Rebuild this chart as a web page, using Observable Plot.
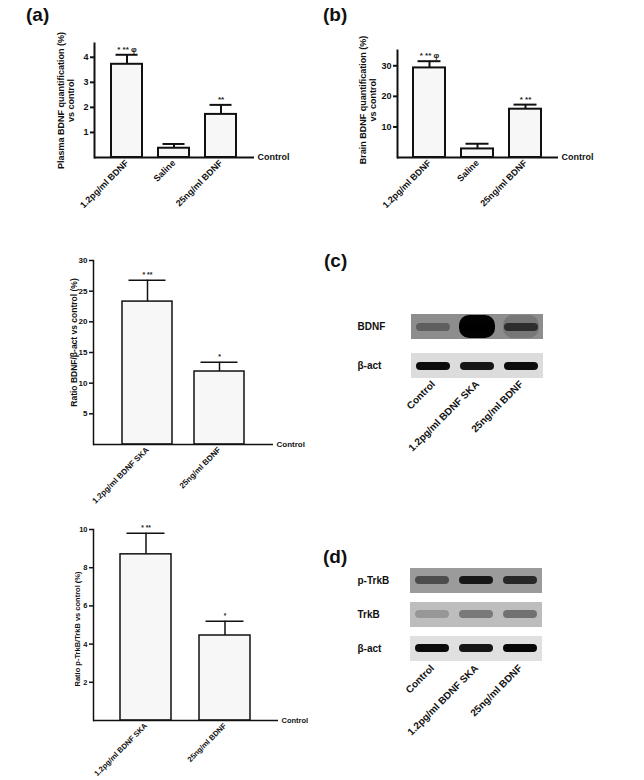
<!DOCTYPE html>
<html><head><meta charset="utf-8">
<script src="https://cdn.jsdelivr.net/npm/d3@7"></script>
<script src="https://cdn.jsdelivr.net/npm/@observablehq/plot@0.6"></script>
<style>
body{margin:0;background:#fff;font-family:"Liberation Sans",Arial,sans-serif;}
#fig{position:relative;width:644px;height:780px;overflow:hidden;background:#fff;}
.panel{position:absolute;}
.lbl{position:absolute;font-size:19px;font-weight:bold;line-height:1;color:#111;}
</style></head><body><div id="fig"></div>
<script>
// ---------- data ----------
const groupsA = ["1.2pg/ml BDNF", "Saline", "25ng/ml BDNF"];
const plasmaMean = [3.72, 0.37, 1.72];
const plasmaErr = [0.38, 0.17, 0.38];
const plasmaSig = ["* ** φ", "", "**"];
const plasmaTicks = [1, 2, 3, 4];

const brainMean = [29.3, 2.8, 15.8];
const brainErr = [2.2, 1.7, 1.5];
const brainSig = ["* ** φ", "", "* **"];
const brainTicks = [10, 20, 30];

const groupsB = ["1.2pg/ml BDNF SKA", "25ng/ml BDNF"];
const bdnfRatioMean = [23.3, 11.9];
const bdnfRatioErr = [3.5, 1.5];
const bdnfRatioSig = ["* **", "*"];
const bdnfRatioTicks = [5, 10, 15, 20, 25, 30];

const trkRatioMean = [8.7, 4.45];
const trkRatioErr = [1.1, 0.75];
const trkRatioSig = ["* **", "*"];
const trkRatioTicks = [2, 4, 6, 8, 10];

const lanes = ["Control", "1.2pg/ml BDNF SKA", "25ng/ml BDNF"];
const blotCRows = ["BDNF", "β-act"];
const blotCBackground = [0.48, 0.15];
const blotCBands = [[0.32, 1.0, 0.62], [0.95, 0.9, 0.95]];
const blotDRows = ["p-TrkB", "TrkB", "β-act"];
const blotDBackground = [0.42, 0.28, 0.13];
const blotDBands = [[0.5, 0.85, 0.75], [0.2, 0.36, 0.4], [0.95, 0.9, 0.97]];

// ---------- helpers ----------
const fig = document.getElementById("fig");
function place(node, left, top) {
  const d = document.createElement("div");
  d.className = "panel"; d.style.left = left + "px"; d.style.top = top + "px";
  d.appendChild(node); fig.appendChild(d);
}
function label(text, left, top) {
  const d = document.createElement("div");
  d.className = "lbl"; d.textContent = text;
  d.style.left = left + "px"; d.style.top = top + "px";
  fig.appendChild(d);
}
const FONT = "'Liberation Sans', Arial, sans-serif";

function barChart(o) {
  const data = o.groups.map((g, i) => ({g, m: o.mean[i], e: o.mean[i] + o.err[i], s: o.sig[i]}));
  const svg = Plot.plot({
    width: o.width, height: o.height,
    marginLeft: o.m[0], marginTop: o.m[1], marginRight: o.m[2], marginBottom: o.m[3],
    style: {fontFamily: FONT, fontWeight: "bold", fontSize: o.fs + "px", color: "#111", background: "transparent", overflow: "visible"},
    x: {domain: o.groups, paddingInner: o.padIn, paddingOuter: o.padOut, label: null, axis: null},
    y: {domain: [0, o.yMax], label: null, axis: null},
    marks: [
      Plot.barY(data, {x: "g", y: "m", fill: "#f7f7f7", stroke: "#111", strokeWidth: o.w}),
      Plot.ruleX(data, {x: "g", y1: "m", y2: "e", stroke: "#111", strokeWidth: o.w}),
      Plot.tickY(data, {x: "g", y: "e", stroke: "#111", strokeWidth: o.w, insetLeft: o.cap, insetRight: o.cap}),
      Plot.text(data, {x: "g", y: "e", text: "s", lineAnchor: "bottom", dy: -3, fontSize: o.fs - 1, fill: "#222"}),
      Plot.frame({anchor: "left", stroke: "#111", strokeWidth: o.w}),
      Plot.ruleY([0], {stroke: "#111", strokeWidth: o.w}),
      Plot.axisY({ticks: o.ticks, tickSize: 4, tickPadding: 2, tickFormat: d => d, label: null, strokeWidth: o.w}),
      Plot.axisX({tickSize: 0, tickRotate: -45, tickPadding: 4, label: null}),
      Plot.text(["Control"], {y: () => 0, frameAnchor: "right", text: d => d, textAnchor: "start", dx: 3}),
      Plot.text([o.label], {frameAnchor: "left", text: d => d, rotate: -90, textAnchor: "middle", lineAnchor: "middle",
        dx: o.ldx, dy: o.ldy || 0, lineHeight: 1.15, fontSize: o.lfs})
    ]
  });
  place(svg, o.left, o.top);
}

let blurId = 0;
function blot(o) {
  const cells = o.rows.flatMap((r, i) => lanes.map((l, j) => ({r, l, bg: o.bg[i], v: o.bands[i][j]})));
  const svg = Plot.plot({
    width: o.width, height: o.height,
    marginLeft: o.m[0], marginTop: o.m[1], marginRight: o.m[2], marginBottom: o.m[3],
    style: {fontFamily: FONT, fontWeight: "bold", fontSize: "10px", color: "#111", background: "transparent", overflow: "visible"},
    x: {domain: lanes, padding: 0, label: null, axis: null},
    y: {domain: o.rows, paddingInner: o.padIn, paddingOuter: 0, label: null, axis: null},
    opacity: {domain: [0, 1], range: [0, 1]},
    marks: [
      Plot.cell(cells, {x: "l", y: "r", fill: "#111", fillOpacity: "bg"}),
      Plot.cell(cells.filter(d => d.r === o.haloRow), {x: "l", y: "r", fill: "#000", fillOpacity: d => Math.max(0, (d.v - 0.55) * 2.2), insetTop: 1, insetBottom: 1, insetLeft: 4, insetRight: 4, rx: 10, ariaLabel: "halo"}),
      Plot.cell(cells, {x: "l", y: "r", fill: "#000", fillOpacity: "v", insetLeft: 5, insetRight: 5, insetTop: o.bt, insetBottom: o.bb, rx: 4, ariaLabel: "band"}),
      Plot.text(o.rows, {y: d => d, frameAnchor: "left", textAnchor: "start", dx: o.rdx, text: d => d, fontSize: 10}),
      Plot.axisX({tickSize: 0, tickRotate: -45, tickPadding: 4, label: null, fontSize: 10})
    ]
  });
  const s = d3.select(svg);
  const defs = s.append("defs");
  const id1 = "blurA" + (blurId++), id2 = "blurB" + (blurId++);
  defs.append("filter").attr("id", id1).attr("x", "-50%").attr("y", "-150%").attr("width", "200%").attr("height", "400%")
    .append("feGaussianBlur").attr("stdDeviation", 1.8);
  defs.append("filter").attr("id", id2).attr("x", "-50%").attr("y", "-150%").attr("width", "200%").attr("height", "400%")
    .append("feGaussianBlur").attr("stdDeviation", 3.5);
  s.selectAll('g[aria-label="band"]').attr("filter", `url(#${id1})`);
  s.selectAll('g[aria-label="halo"]').attr("filter", `url(#${id2})`);
  place(svg, o.left, o.top);
}

// ---------- panels ----------
barChart({groups: groupsA, mean: plasmaMean, err: plasmaErr, sig: plasmaSig, ticks: plasmaTicks, yMax: 4.55,
  label: "Plasma BDNF quantification (%)\nvs control", left: 0, top: 0, width: 320, height: 230,
  m: [94, 43, 66, 73], padIn: 0.33, padOut: 0.34, fs: 9, lfs: 9, w: 2, cap: 4.5, ldx: -29});

barChart({groups: groupsA, mean: brainMean, err: brainErr, sig: brainSig, ticks: brainTicks, yMax: 35,
  label: "Brain BDNF quantification (%)\nvs control", left: 320, top: 0, width: 324, height: 230,
  m: [77, 50, 86, 73], padIn: 0.33, padOut: 0.34, fs: 9, lfs: 9, w: 2, cap: 4.5, ldx: -29.5, ldy: -4});

barChart({groups: groupsB, mean: bdnfRatioMean, err: bdnfRatioErr, sig: bdnfRatioSig, ticks: bdnfRatioTicks, yMax: 30,
  label: "Ratio BDNF/β-act vs control (%)", left: 0, top: 240, width: 320, height: 270,
  m: [93, 20, 47, 66], padIn: 0.31, padOut: 0.39, fs: 8, lfs: 8.5, w: 1.5, cap: 6.5, ldx: -20, ldy: -10});

barChart({groups: groupsB, mean: trkRatioMean, err: trkRatioErr, sig: trkRatioSig, ticks: trkRatioTicks, yMax: 10,
  label: "Ratio p-TrkB/TrkB vs control (%)", left: 0, top: 505, width: 320, height: 275,
  m: [93, 24, 42, 60], padIn: 0.35, padOut: 0.34, fs: 7.5, lfs: 7.5, w: 1.5, cap: 6.5, ldx: -16, ldy: 4});

blot({rows: blotCRows, bg: blotCBackground, bands: blotCBands, haloRow: "BDNF", left: 320, top: 255, width: 324, height: 200,
  m: [90, 59, 101, 77], padIn: 0.36, rdx: -53, bt: 9, bb: 8});

blot({rows: blotDRows, bg: blotDBackground, bands: blotDBands, haloRow: "none", left: 320, top: 540, width: 324, height: 240,
  m: [89, 28, 101, 118], padIn: 0.26, rdx: -52, bt: 8, bb: 9});

label("(a)", 26, 5);
label("(b)", 323, 5);
label("(c)", 324, 251);
label("(d)", 323, 547);
</script></body></html>
